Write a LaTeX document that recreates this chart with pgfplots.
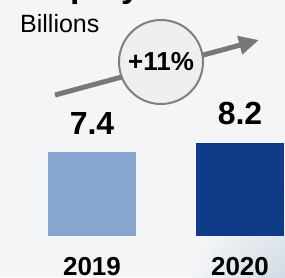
\documentclass[border=0pt]{standalone}
\usepackage{fontspec}
\setmainfont{Liberation Sans}
\usepackage{pgfplots}
\pgfplotsset{compat=1.18}
\usetikzlibrary{arrows.meta}
\definecolor{bg}{HTML}{F3F5F7}
\definecolor{shade}{HTML}{C8D3DE}
\definecolor{lightbar}{HTML}{86A6D0}
\definecolor{darkbar}{HTML}{0F3A87}
\definecolor{arrowgray}{HTML}{787878}
\definecolor{circfill}{HTML}{EFEFEF}
\definecolor{circdraw}{HTML}{7F7F7F}
\begin{document}
\begin{tikzpicture}[x=1pt,y=1pt]
\useasboundingbox (0,0) rectangle (285,277);
\clip (0,0) rectangle (285,277);
\fill[bg] (0,0) rectangle (285,277);
\shade[inner color=shade, outer color=bg] (300,-20) circle (110);
% partial title (cut off at the top edge as in the reference)
\node[anchor=base west, inner sep=0pt, font=\fontsize{34}{38}\selectfont\bfseries] at (17,280) {Employment};
\node[anchor=base west, inner sep=0pt, font=\fontsize{25}{30}\selectfont] at (20,245) {Billions};
\begin{axis}[
  at={(0,0)}, anchor=south west,
  scale only axis, width=285pt, height=277pt,
  xmin=-0.6216, xmax=1.3041, ymin=-3.612, ymax=20.793,
  axis lines=none, xtick=\empty, ytick=\empty,
  ybar, bar width=88pt, bar shift=0pt,
  /pgf/number format/assume math mode=true,
  nodes near coords,
  every node near coord/.append style={anchor=base, yshift=18pt, inner sep=0pt,
    font=\fontsize{32}{38}\selectfont\bfseries, text=black},
  clip=false,
]
\addplot[draw=none, fill=lightbar] coordinates {(0,7.4)};
\addplot[draw=none, fill=darkbar] coordinates {(1,8.2)};
\node[anchor=base, inner sep=0pt, font=\fontsize{26}{30}\selectfont\bfseries] at (axis cs:0,-3.52) {2019};
\node[anchor=base, inner sep=0pt, font=\fontsize{26}{30}\selectfont\bfseries] at (axis cs:1,-3.52) {2020};
\end{axis}
\draw[arrowgray, line width=5pt, -{Triangle[length=20pt,width=18pt]}] (55,182) -- (259,237);
\filldraw[fill=circfill, draw=circdraw, line width=2pt] (161,215) circle (42);
\node[inner sep=0pt, font=\fontsize{26}{30}\selectfont\bfseries] at (161,215) {+11\%};
\end{tikzpicture}
\end{document}
